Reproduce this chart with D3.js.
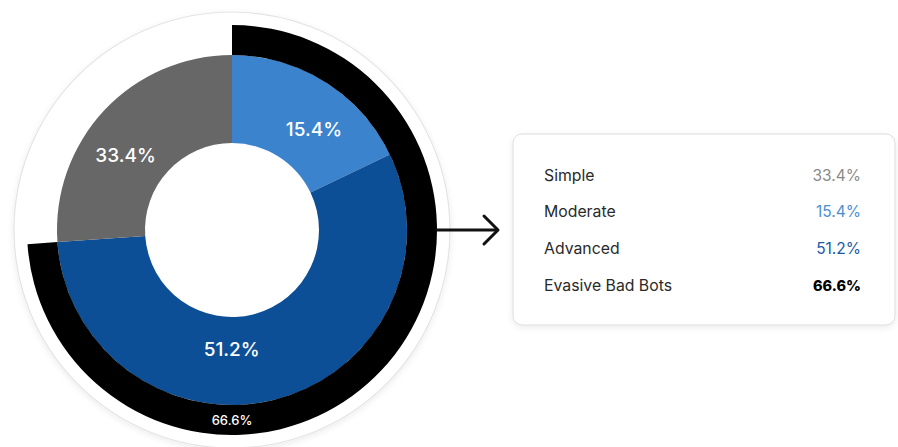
<!DOCTYPE html>
<html>
<head>
<meta charset="utf-8">
<script src="https://cdn.jsdelivr.net/npm/d3@7"></script>
<style>
  body { margin: 0; background: #fff; font-family: Inter, "Noto Sans", sans-serif; }
  svg { display: block; }
</style>
</head>
<body>
<div id="chart"></div>
<script>
// legend order
var categories = ["Simple", "Moderate", "Advanced"];
var values = [33.4, 15.4, 51.2];
// share of the circle each slice takes in the picture (it is not drawn to scale)
var drawnShare = [26.1, 17.9, 56.0];
var evasiveLabel = "Evasive Bad Bots";
var evasiveValue = 66.6;

var svgWidth = 898;
var svgHeight = 447;
var cx = 232, cy = 230;

var svg = d3.select("#chart")
  .append("svg")
  .attr("width", svgWidth)
  .attr("height", svgHeight);

var defs = svg.append("defs");
var shadow = defs.append("filter")
  .attr("id", "soft")
  .attr("x", "-20%").attr("y", "-20%")
  .attr("width", "140%").attr("height", "140%");
shadow.append("feDropShadow")
  .attr("dx", 0).attr("dy", 2)
  .attr("stdDeviation", 3)
  .attr("flood-color", "#000")
  .attr("flood-opacity", 0.08);

var colors = d3.scaleOrdinal()
  .domain(categories)
  .range(["#676767", "#3b83cc", "#0d4f97"]);
var legendColors = d3.scaleOrdinal()
  .domain(categories)
  .range(["#8a8a8a", "#4b8fd2", "#1c5a9f"]);

var chartGroup = svg.append("g")
  .attr("transform", `translate(${cx}, ${cy})`);

// backdrop disc
chartGroup.append("circle")
  .attr("r", 218)
  .attr("fill", "#fff")
  .attr("stroke", "#e4e4e4")
  .attr("stroke-width", 1.2)
  .attr("filter", "url(#soft)");

// slices start at 12 o'clock going clockwise: Moderate, Advanced, Simple
var order = ["Moderate", "Advanced", "Simple"];
var sliceData = order.map(function(c) {
  var i = categories.indexOf(c);
  return { name: c, value: values[i], share: drawnShare[i] };
});

var pie = d3.pie()
  .sort(null)
  .value(d => d.share);
var arcs = pie(sliceData);

var arc = d3.arc().innerRadius(87).outerRadius(175);

chartGroup.selectAll("path.slice")
  .data(arcs)
  .enter()
  .append("path")
  .attr("class", "slice")
  .attr("d", arc)
  .attr("fill", d => colors(d.data.name));

// evasive ring over Moderate + Advanced
var evasiveArc = d3.arc().innerRadius(175).outerRadius(205);
var ringEnd = arcs[1].endAngle;
chartGroup.append("path")
  .attr("d", evasiveArc({ startAngle: 0, endAngle: ringEnd }))
  .attr("fill", "#000");

// slice labels (nudged a bit from centroid to match layout)
var nudge = { "Moderate": 0.12, "Advanced": 0.26, "Simple": -0.14 };
chartGroup.selectAll("text.slice-label")
  .data(arcs)
  .enter()
  .append("text")
  .attr("class", "slice-label")
  .attr("transform", function(d) {
    var a = (d.startAngle + d.endAngle) / 2 + nudge[d.data.name];
    var r = d.data.name === "Advanced" ? 120 : 130;
    return `translate(${Math.sin(a) * r}, ${-Math.cos(a) * r})`;
  })
  .attr("text-anchor", "middle")
  .attr("dominant-baseline", "central")
  .attr("fill", "#fff")
  .attr("font-size", "19px")
  .attr("font-weight", 500)
  .text(d => d.data.value.toFixed(1) + "%");

chartGroup.append("text")
  .attr("x", 0)
  .attr("y", 190)
  .attr("text-anchor", "middle")
  .attr("dominant-baseline", "central")
  .attr("fill", "#fff")
  .attr("font-size", "13px")
  .attr("font-weight", 500)
  .text(evasiveValue.toFixed(1) + "%");

// arrow
var arrow = svg.append("g")
  .attr("stroke", "#111")
  .attr("stroke-width", 3)
  .attr("fill", "none")
  .attr("stroke-linecap", "round")
  .attr("stroke-linejoin", "round");
arrow.append("line")
  .attr("x1", cx + 205).attr("y1", cy)
  .attr("x2", 497).attr("y2", cy);
arrow.append("path")
  .attr("d", `M484,${cy - 14}L498,${cy}L484,${cy + 14}`);

// legend box
var box = { x: 513, y: 134, w: 382, h: 191 };
svg.append("rect")
  .attr("x", box.x).attr("y", box.y)
  .attr("width", box.w).attr("height", box.h)
  .attr("rx", 9)
  .attr("fill", "#fff")
  .attr("stroke", "#dcdcdc")
  .attr("stroke-width", 1)
  .attr("filter", "url(#soft)");

var rows = categories.map(function(c, i) {
  return { name: c, value: values[i], color: legendColors(c), bold: false };
});
rows.push({ name: evasiveLabel, value: evasiveValue, color: "#000", bold: true });

var yRow = d3.scalePoint()
  .domain(rows.map(d => d.name))
  .range([175, 285]);

var legend = svg.append("g");
legend.selectAll("text.name")
  .data(rows)
  .enter()
  .append("text")
  .attr("class", "name")
  .attr("x", 544)
  .attr("y", d => yRow(d.name))
  .attr("dominant-baseline", "central")
  .attr("fill", "#2a2a2a")
  .attr("font-size", "15.8px")
  .text(d => d.name);

legend.selectAll("text.value")
  .data(rows)
  .enter()
  .append("text")
  .attr("class", "value")
  .attr("x", 861)
  .attr("y", d => yRow(d.name))
  .attr("text-anchor", "end")
  .attr("dominant-baseline", "central")
  .attr("fill", d => d.color)
  .attr("font-size", d => d.bold ? "14.5px" : "15.5px")
  .attr("font-weight", d => d.bold ? 800 : 400)
  .text(d => d.value.toFixed(1) + "%");
</script>
</body>
</html>
